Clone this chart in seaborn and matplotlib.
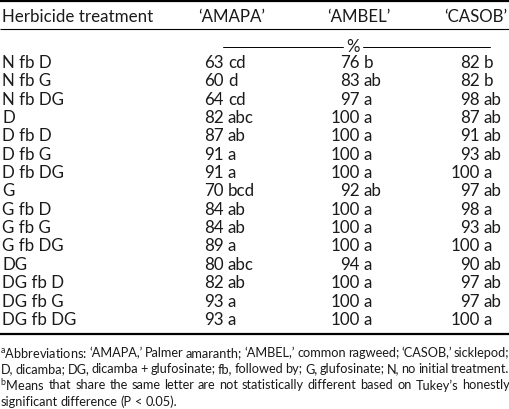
import matplotlib
matplotlib.use("Agg")
import matplotlib.pyplot as plt
import seaborn as sns
import pandas as pd

sns.set_theme(style="white")
plt.rcParams["font.family"] = ["Lato", "DejaVu Sans"]
plt.rcParams["mathtext.fontset"] = "custom"
plt.rcParams["mathtext.rm"] = "Lato"
plt.rcParams["mathtext.it"] = "Lato"

# ---- data ----
treatments = ["N fb D", "N fb G", "N fb DG", "D", "D fb D", "D fb G", "D fb DG",
              "G", "G fb D", "G fb G", "G fb DG", "DG", "DG fb D", "DG fb G", "DG fb DG"]
amapa = [63, 60, 64, 82, 87, 91, 91, 70, 84, 84, 89, 80, 82, 93, 93]
amapa_grp = ["cd", "d", "cd", "abc", "ab", "a", "a", "bcd", "ab", "ab", "a", "abc", "ab", "a", "a"]
ambel = [76, 83, 97, 100, 100, 100, 100, 92, 100, 100, 100, 94, 100, 100, 100]
ambel_grp = ["b", "ab", "a", "a", "a", "a", "a", "ab", "a", "a", "a", "a", "a", "a", "a"]
casob = [82, 82, 98, 87, 91, 93, 100, 97, 98, 93, 100, 90, 97, 97, 100]
casob_grp = ["b", "b", "ab", "ab", "ab", "ab", "a", "ab", "a", "ab", "a", "ab", "ab", "ab", "a"]
species = ["\u2018AMAPA\u2019", "\u2018AMBEL\u2019", "\u2018CASOB\u2019"]
footnotes = [
    ("$^{a}$Abbreviations: \u2018AMAPA,\u2019 Palmer amaranth; \u2018AMBEL,\u2019 common ragweed; \u2018CASOB,\u2019 sicklepod;", True),
    ("D, dicamba; DG, dicamba + glufosinate; fb, followed by; G, glufosinate; N, no initial treatment.", True),
    ("$^{b}$Means that share the same letter are not statistically different based on Tukey\u2019s honestly", True),
    ("significant difference (P < 0.05).", False),
]

df = pd.DataFrame({"treatment": treatments,
                   "AMAPA": amapa, "AMAPA_g": amapa_grp,
                   "AMBEL": ambel, "AMBEL_g": ambel_grp,
                   "CASOB": casob, "CASOB_g": casob_grp})

# ---- layout (pixel coordinates) ----
W, H = 510, 410
fig = plt.figure(figsize=(W / 100, H / 100), dpi=100)
ax = fig.add_axes([0, 0, 1, 1])
ax.set_xlim(0, W)
ax.set_ylim(H, 0)
ax.axis("off")

fs = 12.2
ink = "#1a1a1a"
txt = dict(fontsize=fs, color=ink, va="center")

# header
ax.text(2, 17, "Herbicide treatment", ha="left", **txt)
head_x = [232, 359, 507]
head_ha = ["center", "center", "right"]
for s, x, ha in zip(species, head_x, head_ha):
    ax.text(x, 17, s, ha=ha, **txt)

ax.plot([0, W], [1.5, 1.5], color="black", lw=1.6, solid_capstyle="butt")
ax.plot([0, W], [30, 30], color="black", lw=0.8, solid_capstyle="butt")
ax.plot([223, 343], [47.5, 47.5], color="black", lw=0.7)
ax.text(353, 47, "%", ha="center", **txt)
ax.plot([363, 490], [47.5, 47.5], color="black", lw=0.7)

# body
row0, dy = 63, 18.35
num_right = {"AMAPA": 224, "AMBEL": 360, "CASOB": 480}
for i, r in df.iterrows():
    y = row0 + i * dy
    ax.text(2, y, r["treatment"], ha="left", **txt)
    for col, xr in num_right.items():
        ax.text(xr, y, str(r[col]), ha="right", **txt)
        ax.text(xr + 4, y, r[col + "_g"], ha="left", **txt)

ax.plot([0, W], [334.5, 334.5], color="black", lw=1.6, solid_capstyle="butt")

# footnotes: size chosen so the densest line just fits, then justified
fig.canvas.draw()
renderer = fig.canvas.get_renderer()
probe = ax.text(0, 0, footnotes[1][0], fontsize=10)
fs_note = 10 * 522 / probe.get_window_extent(renderer).width
probe.remove()

foot0, fdy = 353, 16.2
for j, (line, justify) in enumerate(footnotes):
    y = foot0 + j * fdy
    words = line.split(" ")
    objs = [ax.text(0, y, w, ha="left", va="center", fontsize=fs_note, color=ink) for w in words]
    widths = [o.get_window_extent(renderer).width for o in objs]
    if justify:
        gap = (W - 1 - sum(widths)) / (len(words) - 1)
    else:
        gap = fs_note * 0.25 * 100 / 72
    x = 0.5
    for o, w in zip(objs, widths):
        o.set_x(x)
        x += w + gap

fig.savefig("out.png", dpi=100)
